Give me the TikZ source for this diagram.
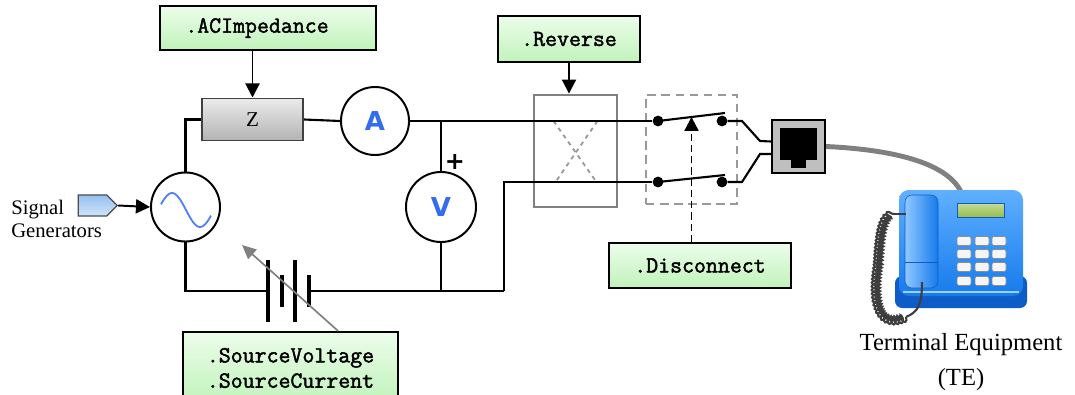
\documentclass[tikz,border=0pt]{standalone}
\usepackage{fontspec}
\setmainfont{Liberation Serif}
\setmonofont{Latin Modern Mono}[AutoFakeBold=1.8]
\newfontfamily\meterfont{DejaVu Sans}
\usepackage{xcolor}
\usetikzlibrary{shapes,arrows,positioning,calc,decorations.pathmorphing,arrows.meta}

\definecolor{boxtop}{RGB}{236,253,234}
\definecolor{boxbot}{RGB}{192,243,186}
\definecolor{meterblue}{RGB}{52,108,240}
\definecolor{tagblue}{RGB}{150,192,240}
\definecolor{phoneblue}{RGB}{22,122,236}
\definecolor{phonelight}{RGB}{96,176,255}
\definecolor{phonedark}{RGB}{14,92,200}
\definecolor{lcdgreen}{RGB}{150,190,70}
\definecolor{cordgray}{RGB}{62,62,62}

\begin{document}
\begin{tikzpicture}[x=0.025cm, y=-0.025cm,
    wire/.style={line width=1.5pt},
    apibox/.style={draw, line width=1.4pt, top color=boxtop, bottom color=boxbot, inner sep=0pt,
        font=\ttfamily\bfseries\fontsize{16.5}{18}\selectfont},
    meter/.style={circle, draw, line width=1.4pt, fill=white, inner sep=0pt,
        font=\meterfont\bfseries\fontsize{18.5}{20}\selectfont, text=meterblue},
    ptr/.style={-{Triangle[length=10pt,width=10pt]}, line width=1.4pt},
    contact/.style={circle, fill, inner sep=0pt, minimum size=0.27cm},
    plate/.style={line width=2.5pt}
]
    \useasboundingbox (0,0) rectangle (1075,394);
    \clip (0,0) rectangle (1075,394);

    % control boxes
    \node[apibox, minimum width=5.4cm, minimum height=1.1cm] (acimp) at (268,28) {.ACImpedance\hspace*{0.55cm}};
    \node[apibox, minimum width=3.55cm, minimum height=1.15cm] (revlbl) at (569,39) {.Reverse};
    \node[apibox, minimum width=4.55cm, minimum height=1.125cm] (disc) at (700,265.5) {.Disconnect};
    \node[apibox, minimum width=5.375cm, minimum height=1.8cm, align=left] (srcbox) at (290.5,368) {.SourceVoltage\\.SourceCurrent};

    % line components
    \node[draw=black!75, line width=1.4pt, top color=black!8, bottom color=black!30, inner sep=0pt,
        minimum width=2.525cm, minimum height=1.05cm, font=\fontsize{15}{16}\selectfont] (zbox) at (252.5,119.5) {Z};
    \node[meter, minimum size=1.7cm] (amm) at (375,121) {A};
    \node[meter, minimum size=1.75cm] (volt) at (441,207) {V};
    \node[circle, draw, line width=1.4pt, fill=white, minimum size=1.725cm] (gen) at (185.5,207) {};
    \draw[meterblue!85, line width=1.3pt] plot[domain=161:211, samples=40, smooth] (\x, {210-17*sin(6.4286*(\x-158))});
    \node[font=\meterfont\bfseries\fontsize{17}{17}\selectfont, inner sep=0pt] (plus) at (455,162) {+};

    \node[shape=signal, signal to=east, signal from=nowhere, draw=black!70, line width=0.9pt,
        top color=tagblue, bottom color=tagblue!45, inner sep=0pt,
        minimum width=0.975cm, minimum height=0.525cm] (sigin) at (92.5,205.5) {};
    \node[anchor=west, align=left, inner sep=0pt, font=\fontsize{14.7}{16.4}\selectfont] (siglbl) at (11,219) {Signal\\Generators};

    \node[draw=gray, line width=2pt, inner sep=0pt, minimum width=2.075cm, minimum height=2.8cm] (rev) at (575.5,151) {};
    \draw[gray!80, dashed, line width=1.3pt] ($(rev.center)+(-22,-30)$) -- ($(rev.center)+(21,31)$)
        ($(rev.center)+(22,-30)$) -- ($(rev.center)+(-20,31)$);

    \node[draw=gray!80, line width=1.5pt, dash pattern=on 6pt off 4pt, inner sep=0pt,
        minimum width=2.275cm, minimum height=2.725cm] (swbox) at (691.5,149.5) {};
    \node[contact] (c1) at (658,121) {};
    \node[contact] (c2) at (722,121) {};
    \node[contact] (c3) at (658,182) {};
    \node[contact] (c4) at (722,182) {};
    \coordinate (blade1) at (725,113);
    \coordinate (blade2) at (725,175);

    \node[draw, line width=1.4pt, fill=black!25, inner sep=0pt, minimum size=1.325cm] (jack) at (798.5,146.5) {};
    \fill ($(jack.center)+(-18.5,-18.5)$) rectangle ($(jack.center)+(18.5,13.5)$);
    \fill ($(jack.center)+(-7.5,13)$) rectangle ($(jack.center)+(7.5,21.5)$);

    % battery
    \coordinate (batl) at (268,291);
    \coordinate (batr) at (309,291);
    \coordinate (ret) at (504,291);
    \foreach \x/\h in {268/31, 282/16, 295/31, 309/16}
        \draw[plate] (\x,291-\h) -- (\x,291+\h);

    % wiring
    \draw[wire] (zbox.west) -| (gen.north);
    \draw[wire] (zbox.east) -- (amm.west);
    \draw[wire] (amm.east) -- (c1);
    \draw[wire] (volt.north |- amm.east) -- (volt.north);
    \draw[wire] (gen.south) |- (batl);
    \draw[wire] (batr) -- (ret);
    \draw[wire] (volt.south) -- (volt.south |- ret);
    \draw[wire] (ret) |- (c3);
    \draw[wire] (c1.center) -- (blade1);
    \draw[wire] (c3.center) -- (blade2);
    \draw[wire] (c2) -- (742,121) -- (760,141) -- ($(jack.west)+(0,-5)$);
    \draw[wire] (c4) -- (742,182) -- (760,154) -- ($(jack.west)+(0,7.5)$);

    % control arrows
    \draw[ptr] (acimp.south -| zbox.north) -- (zbox.north);
    \draw[ptr] (revlbl.south) -- (revlbl.south |- rev.north);
    \draw[ptr, dash pattern=on 5pt off 3pt] (disc.north -| swbox.center) -- ($(swbox.north)+(0,23)$);
    \draw[ptr] (sigin.east) -- (gen.west);
    \coordinate (vtip) at (242,245);
    \draw[-{Triangle[length=10pt,width=9pt]}, gray, line width=1.2pt] ([xshift=1.19cm]srcbox.north) -- (vtip);

    % telephone
    \coordinate (phonetop) at (962,194);
    \draw[gray, line width=3.5pt] (jack.east) .. controls (900,150) and (950,165) .. (phonetop);
    \fill[phonedark, rounded corners=5pt] (895,276) rectangle (1027,308);
    \shade[top color=phonelight, bottom color=phoneblue, rounded corners=7pt] (899,190) rectangle (1023,296);
    \draw[phonelight!60!white, line width=1pt] (903,292) -- (1019,292);
    \shadedraw[draw=phonedark, left color=phonelight!70!white, right color=phoneblue, rounded corners=5pt] (905,195) rectangle (938,288);
    \draw[phonedark] (905,262) -- (938,262);
    \shadedraw[draw=phonedark, top color=lcdgreen!55!white, bottom color=lcdgreen] (957,203) rectangle (1004,217);
    \foreach \ky in {241,254,267,281}
        \foreach \kx in {964,982,999}
            \filldraw[fill=black!4, draw=black!45, rounded corners=1.5pt] (\kx-7,\ky-4.5) rectangle (\kx+7,\ky+4.5);
    \draw[cordgray, line width=1.5pt] (922,282) .. controls (922,305) and (918,312) .. (906,317);
    \draw[cordgray, line width=1.5pt, decorate, decoration={coil, aspect=0.4, segment length=2.5pt, amplitude=3pt}]
        (906,317) .. controls (878,330) and (872,300) .. (878,265) .. controls (880,225) and (884,216) .. (894,214);
    \draw[cordgray, line width=1.5pt] (894,214) -- (906,214);
    \node[font=\fontsize{17.5}{25}\selectfont, align=center] (te) at (961,362) {Terminal Equipment\\(TE)};
\end{tikzpicture}
\end{document}
